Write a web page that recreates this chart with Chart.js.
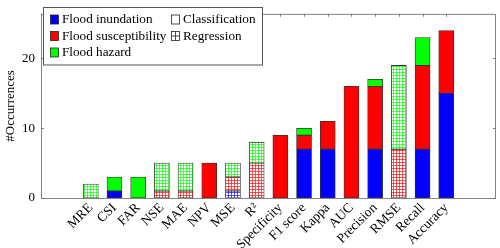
<!DOCTYPE html>
<html>
<head>
<meta charset="utf-8">
<script src="https://cdn.jsdelivr.net/npm/chart.js@4"></script>
<style>
  html, body { margin: 0; padding: 0; background: #fff; }
  #wrap { width: 500px; height: 248px; }
</style>
</head>
<body>
<div id="wrap"><canvas id="chart" width="500" height="248"></canvas></div>
<script>
const metrics = ["MRE", "CSI", "FAR", "NSE", "MAE", "NPV", "MSE", "R²", "Specificity",
  "F1 score", "Kappa", "AUC", "Precision", "RMSE", "Recall", "Accuracy"];

// classification studies
const inundationCls = [0, 1, 0, 0, 0, 0, 0, 0, 0, 7, 7, 0, 7, 0, 7, 15];
const susceptibilityCls = [0, 0, 0, 0, 0, 5, 0, 0, 9, 2, 4, 16, 9, 0, 12, 9];
const hazardCls = [0, 2, 3, 0, 0, 0, 0, 0, 0, 1, 0, 0, 1, 0, 4, 0];

// regression studies
const inundationReg = [0, 0, 0, 0, 0, 0, 1, 0, 0, 0, 0, 0, 0, 0, 0, 0];
const susceptibilityReg = [0, 0, 0, 1, 1, 0, 2, 5, 0, 0, 0, 0, 0, 7, 0, 0];
const hazardReg = [2, 0, 0, 4, 4, 0, 2, 3, 0, 0, 0, 0, 0, 12, 0, 0];

const yTicks = [0, 10, 20];

const BLUE = "#0000ff", RED = "#ff0000", GREEN = "#00ff00";
const FONT = "Liberation Serif";

function gridPattern(color) {
  const c = document.createElement("canvas");
  c.width = 3; c.height = 3;
  const g = c.getContext("2d");
  g.fillStyle = "#fff";
  g.fillRect(0, 0, 3, 3);
  g.globalAlpha = 0.65;
  g.fillStyle = color;
  g.fillRect(0, 0, 3, 1);
  g.fillRect(0, 0, 1, 3);
  return g.createPattern(c, "repeat");
}

function toPoints(values) {
  return values.map((v, i) => ({ x: i, y: v === 0 ? null : v }));
}

function makeSet(label, values, fill) {
  return {
    label: label,
    data: toPoints(values),
    backgroundColor: fill,
    borderColor: "#333",
    borderWidth: 0.8,
    borderSkipped: false,
    barThickness: 15,
  };
}

const ctx = document.getElementById("chart").getContext("2d");

const datasets = [
  makeSet("inundation cls", inundationCls, BLUE),
  makeSet("inundation reg", inundationReg, gridPattern(BLUE)),
  makeSet("susceptibility cls", susceptibilityCls, RED),
  makeSet("susceptibility reg", susceptibilityReg, gridPattern(RED)),
  makeSet("hazard cls", hazardCls, GREEN),
  makeSet("hazard reg", hazardReg, gridPattern(GREEN)),
];

// frame, mirrored inward ticks and the two-column legend
const framePlugin = {
  id: "frame",
  afterDatasetsDraw(chart) {
    const { ctx, chartArea: a, scales } = chart;
    ctx.save();
    ctx.strokeStyle = "#666";
    ctx.lineWidth = 0.8;
    ctx.beginPath();
    metrics.forEach((_, i) => {
      const x = Math.round(scales.x.getPixelForValue(i)) + 0.5;
      ctx.moveTo(x, a.top); ctx.lineTo(x, a.top + 3);
    });
    yTicks.forEach((v) => {
      const y = Math.round(scales.y.getPixelForValue(v)) + 0.5;
      ctx.moveTo(a.left, y); ctx.lineTo(a.left + 3, y);
      ctx.moveTo(a.right, y); ctx.lineTo(a.right - 3, y);
    });
    ctx.stroke();
    ctx.strokeRect(a.left + 0.5, a.top + 0.5, a.right - a.left - 1, a.bottom - a.top);

    // legend
    const lx = 43.5, ly = 7.5, lw = 219, lh = 57.5;
    ctx.fillStyle = "#fff";
    ctx.fillRect(lx, ly, lw, lh);
    ctx.strokeStyle = "#555";
    ctx.lineWidth = 1;
    ctx.strokeRect(lx, ly, lw, lh);
    ctx.font = "13.2px '" + FONT + "'";
    ctx.textBaseline = "middle";
    const rows = [19.5, 36, 52.5];
    const entries = [
      { col: 0, row: 0, fill: BLUE, text: "Flood inundation" },
      { col: 0, row: 1, fill: RED, text: "Flood susceptibility" },
      { col: 0, row: 2, fill: GREEN, text: "Flood hazard" },
      { col: 1, row: 0, fill: "#fff", text: "Classification" },
      { col: 1, row: 1, fill: "grid", text: "Regression" },
    ];
    entries.forEach((e) => {
      const sx = e.col === 0 ? 50.5 : 171.5;
      const sy = rows[e.row] - 4.5;
      ctx.fillStyle = e.fill === "grid" ? "#fff" : e.fill;
      ctx.fillRect(sx, sy, 8, 9);
      ctx.strokeStyle = "#222";
      ctx.lineWidth = 0.8;
      ctx.strokeRect(sx, sy, 8, 9);
      if (e.fill === "grid") {
        ctx.beginPath();
        ctx.moveTo(sx + 4, sy); ctx.lineTo(sx + 4, sy + 9);
        ctx.moveTo(sx, sy + 4.5); ctx.lineTo(sx + 8, sy + 4.5);
        ctx.stroke();
      }
      ctx.fillStyle = "#000";
      ctx.fillText(e.text, sx + 11.5, rows[e.row] + 0.5);
    });
    ctx.restore();
  },
};

new Chart(ctx, {
  type: "bar",
  data: { datasets: datasets },
  options: {
    responsive: false,
    animation: false,
    layout: { padding: { top: 4, right: 4, left: 0, bottom: 0 } },
    plugins: { legend: { display: false }, tooltip: { enabled: false } },
    scales: {
      x: {
        type: "linear",
        stacked: true,
        min: -1.5,
        max: 16.5,
        afterBuildTicks: (s) => { s.ticks = metrics.map((_, i) => ({ value: i })); },
        afterFit: (s) => { s.height = 50; },
        grid: { display: false, drawTicks: false },
        border: { display: false },
        ticks: {
          autoSkip: false,
          minRotation: 45,
          maxRotation: 45,
          padding: 2,
          color: "#000",
          font: { family: FONT, size: 13.5 },
          callback: (v) => metrics[v] ?? "",
        },
      },
      y: {
        stacked: true,
        min: 0,
        max: 26.4,
        afterBuildTicks: (s) => { s.ticks = yTicks.map((v) => ({ value: v })); },
        afterFit: (s) => { s.width = 41; },
        grid: { display: false, drawTicks: false },
        border: { display: false },
        ticks: {
          padding: 6,
          color: "#000",
          font: { family: FONT, size: 13 },
        },
        title: {
          display: true,
          text: "#Occurrences",
          color: "#000",
          padding: { top: 3, bottom: 0 },
          font: { family: FONT, size: 13 },
        },
      },
    },
  },
  plugins: [framePlugin],
});
</script>
</body>
</html>
